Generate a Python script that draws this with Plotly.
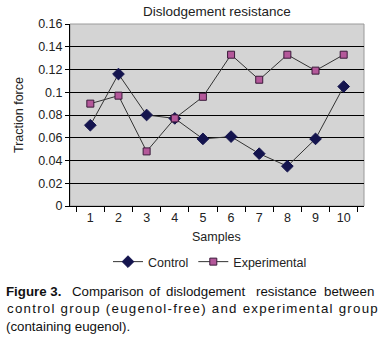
import plotly.graph_objects as go

samples = [1, 2, 3, 4, 5, 6, 7, 8, 9, 10]
control = [0.071, 0.116, 0.080, 0.077, 0.059, 0.061, 0.046, 0.035, 0.059, 0.105]
experimental = [0.090, 0.097, 0.048, 0.077, 0.096, 0.133, 0.111, 0.133, 0.119, 0.133]
y_ticks = [0, 0.02, 0.04, 0.06, 0.08, 0.1, 0.12, 0.14, 0.16]
y_tick_labels = ["0", "0.02", "0.04", "0.06", "0.08", "0.1", "0.12", "0.14", "0.16"]
x_labels = [str(s) for s in samples]

W, H = 381, 357
def px_x(p):
    return p / W
def px_y(p):
    return 1 - p / H

FONT = "Liberation Sans, Arial, sans-serif"
TXT = "#222222"

fig = go.Figure()
fig.add_trace(go.Scatter(
    x=x_labels, y=control, name="Control", mode="lines+markers",
    line=dict(color="#333333", width=1),
    marker=dict(symbol="diamond", size=9, color="#14144e", line=dict(color="#14144e", width=1)),
))
fig.add_trace(go.Scatter(
    x=x_labels, y=experimental, name="Experimental", mode="lines+markers",
    line=dict(color="#333333", width=1),
    marker=dict(symbol="square", size=7, color="#b4589a", line=dict(color="#3a1a3a", width=1)),
))

fig.update_layout(
    width=W, height=H,
    margin=dict(l=0, r=0, t=0, b=0),
    paper_bgcolor="white",
    plot_bgcolor="#d4d4d4",
    font=dict(family=FONT, size=12, color=TXT),
    showlegend=True,
    legend=dict(orientation="h", x=px_x(108), y=px_y(262), xanchor="left", yanchor="middle",
                font=dict(size=12.5, color=TXT), itemwidth=30, bgcolor="rgba(0,0,0,0)"),
    xaxis=dict(
        type="category", domain=[px_x(70), px_x(364)], automargin=False,
        tickson="boundaries", ticks="outside", ticklen=5, tickcolor="black",
        showline=True, linecolor="black", linewidth=1, showgrid=False,
        tickfont=dict(size=12.5, color=TXT),
    ),
    yaxis=dict(
        domain=[px_y(206), px_y(24)], range=[0, 0.16], automargin=False,
        tickvals=y_ticks, ticktext=y_tick_labels,
        ticks="outside", ticklen=4, tickcolor="black",
        showline=True, linecolor="black", linewidth=1,
        showgrid=True, gridcolor="black", gridwidth=1, zeroline=False,
        tickfont=dict(size=12.5, color=TXT),
    ),
)

fig.add_shape(type="rect", xref="paper", yref="paper",
              x0=px_x(70), x1=px_x(364), y0=px_y(206), y1=px_y(24),
              line=dict(color="#9a9a9a", width=1), layer="below")

def label(text, x, y, size=12.5, xanchor="center", angle=0, color=TXT):
    fig.add_annotation(text=text, xref="paper", yref="paper", x=px_x(x), y=px_y(y),
                       xanchor=xanchor, yanchor="middle", showarrow=False, textangle=angle,
                       font=dict(family=FONT, size=size, color=color))

label("Dislodgement resistance", 217, 12, size=13.5)
label("Samples", 217, 237)
label("Traction force", 19, 115, angle=-90)

# caption (justified: words placed individually / letter-spaced)
CAP = "#111111"
line1 = [("<b>Figure 3.</b>", 4), ("Comparison", 70), ("of", 147), ("dislodgement", 164),
         ("resistance", 254), ("between", 376)]
for i, (w, x) in enumerate(line1):
    label(w, x, 291, size=13.3, xanchor="right" if i == len(line1) - 1 else "left", color=CAP)
label('<span style="letter-spacing:1.25px">control group (eugenol-free) and experimental group</span>',
      5, 308, size=13.3, xanchor="left", color=CAP)
label("(containing eugenol).", 4, 326, size=13.3, xanchor="left", color=CAP)

fig.write_html("out.html", config={"displayModeBar": False},
               post_script="document.body.style.margin='0';document.body.style.padding='0';")
